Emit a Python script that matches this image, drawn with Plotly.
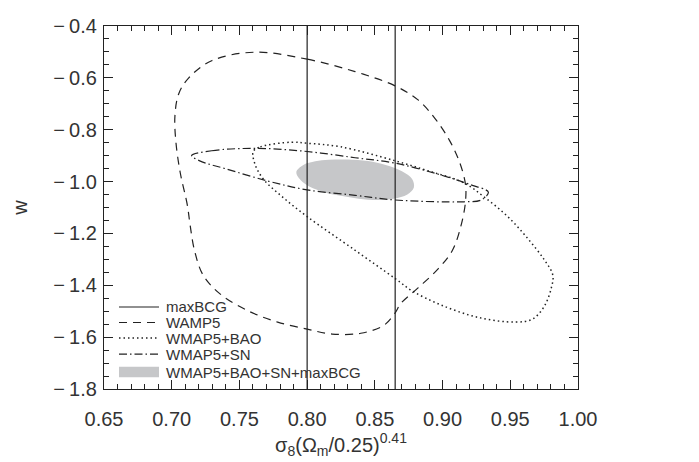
import plotly.graph_objects as go

# ---------------- data ----------------
x_tickvals = [0.65, 0.70, 0.75, 0.80, 0.85, 0.90, 0.95, 1.00]
x_ticktext = ["0.65", "0.70", "0.75", "0.80", "0.85", "0.90", "0.95", "1.00"]
y_tickvals = [-0.4, -0.6, -0.8, -1.0, -1.2, -1.4, -1.6, -1.8]
y_ticktext = ["\u2212\u20090.4", "\u2212\u20090.6", "\u2212\u20090.8", "\u2212\u20091.0",
              "\u2212\u20091.2", "\u2212\u20091.4", "\u2212\u20091.6", "\u2212\u20091.8"]

maxbcg_x = [0.80, 0.865]

wmap5_x = [0.7613, 0.800, 0.8354, 0.865, 0.8819, 0.8946, 0.9052, 0.9126, 0.9169, 0.9169,
           0.9137, 0.9073, 0.8967, 0.8819, 0.8692, 0.865, 0.8565, 0.8396, 0.8184, 0.800,
           0.7782, 0.757, 0.7359, 0.7232, 0.7168, 0.7136, 0.7115, 0.7062, 0.7030, 0.7024,
           0.7052, 0.7126, 0.7295, 0.7613]
wmap5_y = [-0.501, -0.528, -0.576, -0.631, -0.685, -0.758, -0.842, -0.926, -1.011, -1.078,
           -1.168, -1.265, -1.337, -1.410, -1.470, -1.506, -1.555, -1.585, -1.588, -1.569,
           -1.542, -1.500, -1.434, -1.361, -1.265, -1.168, -1.090, -0.963, -0.842, -0.745,
           -0.661, -0.600, -0.534, -0.501]

bao_x = [0.7602, 0.7655, 0.7888, 0.800, 0.8248, 0.865, 0.8883, 0.9158, 0.9306, 0.9475,
         0.9623, 0.975, 0.9814, 0.9803, 0.975, 0.9665, 0.9538, 0.9264, 0.8989, 0.8777,
         0.865, 0.8354, 0.800, 0.7824, 0.7676, 0.7613, 0.7602]
bao_y = [-0.884, -0.866, -0.848, -0.852, -0.866, -0.920, -0.957, -1.005, -1.059, -1.132,
         -1.216, -1.301, -1.361, -1.410, -1.482, -1.530, -1.542, -1.524, -1.476, -1.422,
         -1.374, -1.265, -1.135, -1.062, -0.990, -0.930, -0.884]

sn_x = [0.7147, 0.7295, 0.7634, 0.800, 0.8354, 0.865, 0.8989, 0.920, 0.9338, 0.9285,
        0.9158, 0.865, 0.8354, 0.800, 0.7718, 0.7401, 0.7211, 0.7147]
sn_y = [-0.900, -0.881, -0.872, -0.884, -0.908, -0.929, -0.975, -1.011, -1.041, -1.071,
        -1.078, -1.071, -1.053, -1.032, -0.999, -0.951, -0.921, -0.900]

all_x = [0.792, 0.7972, 0.8060, 0.8160, 0.8300, 0.8450, 0.8580, 0.8700, 0.8775, 0.8788,
         0.8740, 0.8640, 0.8523, 0.8380, 0.8248, 0.8120, 0.8020, 0.7950, 0.792]
all_y = [-0.963, -0.936, -0.922, -0.916, -0.915, -0.921, -0.936, -0.960, -0.990, -1.023,
         -1.050, -1.066, -1.071, -1.066, -1.055, -1.040, -1.020, -0.993, -0.963]

legend_names = ["maxBCG", "WAMP5", "WMAP5+BAO", "WMAP5+SN", "WMAP5+BAO+SN+maxBCG"]

# ---------------- styles ----------------
INK = "#222222"
TXT = "#333333"
GRAY = "#c6c7c9"
FONT = "Liberation Sans, Arial, sans-serif"
DASH = "8px,6px"
DOT = "1.5px,3px"
DASHDOT = "8px,3px,1.5px,3px"

x_range = [0.65, 1.00]
y_range = [-1.8, -0.4]

fig = go.Figure()

fig.add_trace(go.Scatter(x=all_x, y=all_y, mode="lines", fill="toself",
                         fillcolor=GRAY, line=dict(width=0, color=GRAY, shape="spline", smoothing=1.0),
                         showlegend=False, hoverinfo="skip"))

vx, vy = [], []
for xv in maxbcg_x:
    vx += [xv, xv, None]
    vy += [y_range[0], y_range[1], None]
fig.add_trace(go.Scatter(x=vx, y=vy, mode="lines", line=dict(color=INK, width=1.2),
                         showlegend=False))

fig.add_trace(go.Scatter(x=wmap5_x, y=wmap5_y, mode="lines",
                         line=dict(color=INK, width=1.2, dash=DASH, shape="spline", smoothing=1.0),
                         showlegend=False))
fig.add_trace(go.Scatter(x=bao_x, y=bao_y, mode="lines",
                         line=dict(color=INK, width=1.5, dash=DOT, shape="spline", smoothing=1.0),
                         showlegend=False))
fig.add_trace(go.Scatter(x=sn_x, y=sn_y, mode="lines",
                         line=dict(color=INK, width=1.2, dash=DASHDOT, shape="spline", smoothing=1.0),
                         showlegend=False))

# ---------------- custom legend (paper coordinates) ----------------
L = 96.0; R = 570.0; T = 7.0; B = 381.0
def px2paper(px, py):
    return (px - L) / (R - L), (B - py) / (B - T)

row_py = [296.5, 312.5, 328.5, 345.0, 363.5]
styles = [("solid", 1.2), (DASH, 1.2), (DOT, 1.5), (DASHDOT, 1.2)]
for i, name in enumerate(legend_names):
    x0, yy = px2paper(111, row_py[i])
    x1, _ = px2paper(151, row_py[i])
    if i < 4:
        fig.add_shape(type="line", xref="paper", yref="paper", x0=x0, x1=x1, y0=yy, y1=yy,
                      line=dict(color=INK, width=styles[i][1], dash=styles[i][0]))
    else:
        _, yb = px2paper(111, row_py[i] + 5.5)
        _, yt = px2paper(111, row_py[i] - 5.5)
        fig.add_shape(type="rect", xref="paper", yref="paper", x0=x0, x1=x1, y0=yb, y1=yt,
                      line=dict(width=0), fillcolor=GRAY)
    tx, _ = px2paper(156, row_py[i])
    fig.add_annotation(x=tx, y=yy, xref="paper", yref="paper", text=name, showarrow=False,
                       xanchor="left", yanchor="middle", font=dict(family=FONT, size=15, color=TXT))

axis_common = dict(showgrid=False, zeroline=False, showline=True, linecolor=INK, linewidth=1.3,
                   mirror="ticks", ticks="inside", ticklen=9, tickwidth=1.1, tickcolor=INK,
                   ticklabeloverflow="allow",
                   tickfont=dict(family=FONT, size=20, color=TXT))

fig.update_layout(
    width=699, height=462, autosize=False,
    margin=dict(l=96, r=129, t=7, b=81),
    plot_bgcolor="white", paper_bgcolor="white",
    showlegend=False,
    xaxis=dict(range=x_range, tickvals=x_tickvals, ticktext=x_ticktext, ticklabelstandoff=12,
               minor=dict(ticks="inside", ticklen=5, dtick=0.01, tick0=0.65, tickcolor=INK, tickwidth=1.0),
               title=dict(text="\u03c3<sub>8</sub>(\u03a9<sub>m</sub>/0.25)<sup>0.41</sup>",
                          font=dict(family=FONT, size=20, color=TXT), standoff=2),
               **axis_common),
    yaxis=dict(range=y_range, tickvals=y_tickvals, ticktext=y_ticktext, ticklabelstandoff=2,
               minor=dict(ticks="inside", ticklen=5, dtick=0.05, tick0=-1.8, tickcolor=INK, tickwidth=1.0),
               title=dict(text="w", font=dict(family=FONT, size=20, color=TXT), standoff=20),
               **axis_common),
)

fig.write_html("out.html")
